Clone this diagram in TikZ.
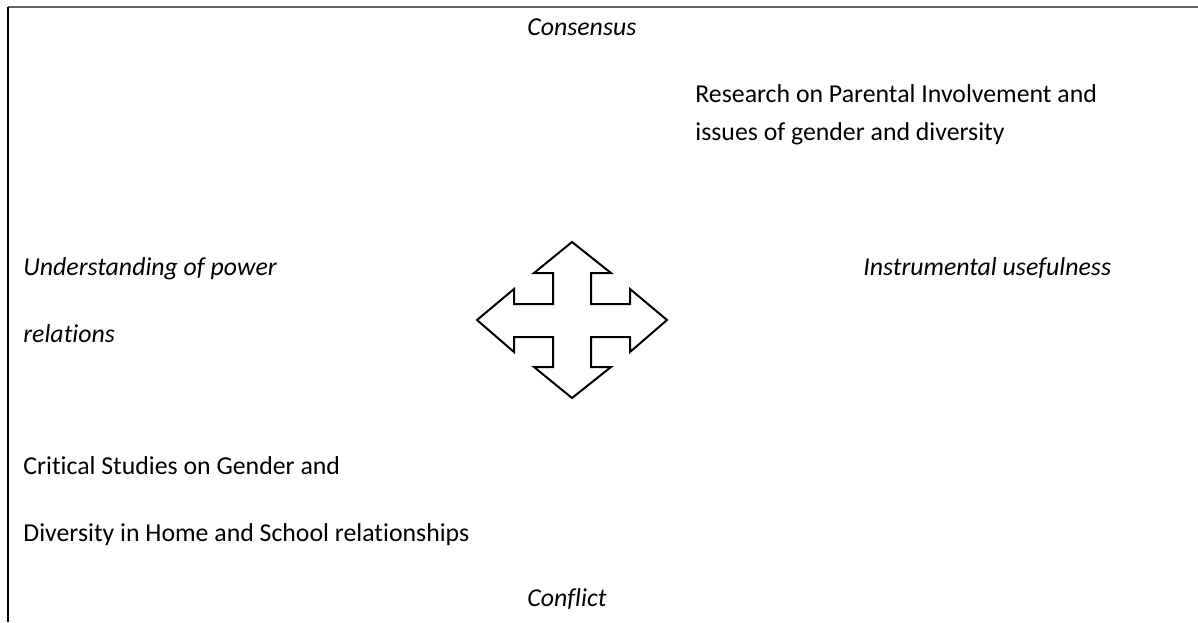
\documentclass[tikz,border=0pt]{standalone}
\usepackage{fontspec}
\setmainfont{Carlito}[Ligatures={NoCommon}]
\begin{document}
\begin{tikzpicture}[x=0.5pt, y=-0.5pt,
  label/.style={anchor=base west, inner sep=0pt, font=\fontsize{12.9}{16}\selectfont},
  axis/.style={anchor=base west, inner sep=0pt, font=\fontsize{12.9}{16}\selectfont\itshape}]

\useasboundingbox (0,0) rectangle (1198,622);

\draw [line width=1pt, black!60] (8,7) -- (1198,7);
\draw [line width=1pt] (8,7) -- (8,622);

\node [axis] (consensus) at (527,35) {Consensus};
\node [axis] (conflict) at (527,606) {Conflict};
\node [axis] (power) at (23,275) {Understanding of power};
\node [axis] (relations) at (23,342) {relations};
\node [axis] (useful) at (863,275) {Instrumental usefulness};

\node [label] (research) at (695,102) {Research on Parental Involvement and};
\node [label] (issues) at (695,140) {issues of gender and diversity};
\node [label] (critical) at (23,474) {Critical Studies on Gender and};
\node [label] (diversity) at (23,541) {Diversity in Home and School relationships};

\draw [line width=1pt, line join=miter] (572,242) -- (611,273) -- (591,273) -- (591,304) -- (630,304) -- (630,289) -- (667,320) -- (630,352) -- (630,337) -- (591,337) -- (591,367) -- (611,367) -- (572,398) -- (534,367) -- (553,367) -- (553,337) -- (514,337) -- (514,352) -- (477,320) -- (514,289) -- (514,304) -- (553,304) -- (553,273) -- (534,273) -- cycle;

\end{tikzpicture}
\end{document}
